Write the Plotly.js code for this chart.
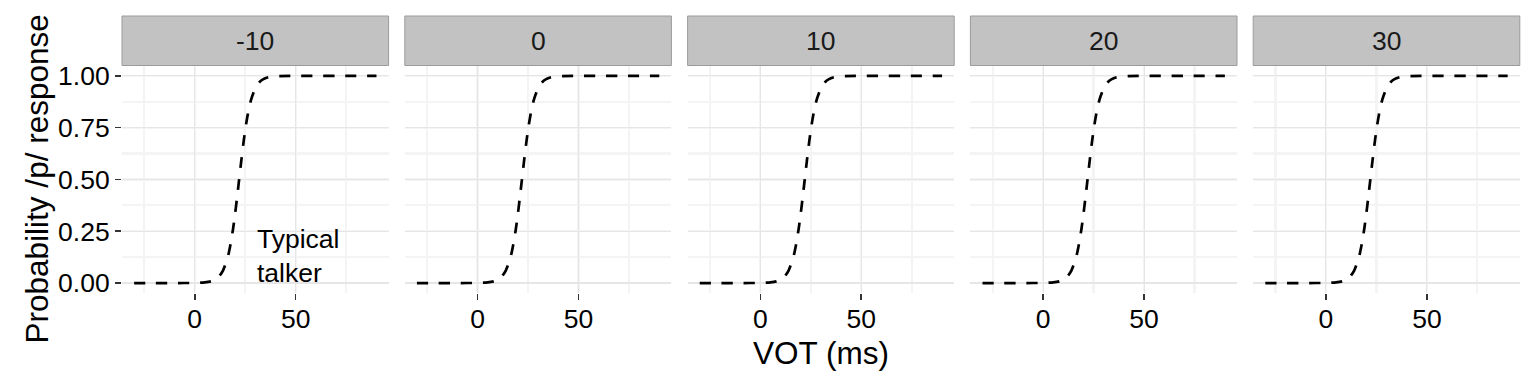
<!DOCTYPE html>
<html>
<head>
<meta charset="utf-8">
<script src="https://cdn.plot.ly/plotly-3.0.1.min.js"></script>
<style>
  html, body { margin: 0; padding: 0; background: #ffffff; }
  #chart { width: 1536px; height: 384px; }
</style>
</head>
<body>
<div id="chart"></div>
<script>
// ---- data ----
const facetLabels = ["-10", "0", "10", "20", "30"];
const vot = [-30, -20, -10, 0, 5, 8, 10, 12, 14, 16, 17, 18, 19, 20, 21, 22, 23, 24, 25, 26, 27, 28, 30, 32, 34, 36, 40, 50, 60, 70, 80, 90];
const probP = [0, 0, 0, 0.0005, 0.003, 0.008, 0.016, 0.031, 0.060, 0.112, 0.151, 0.201, 0.262, 0.334, 0.415, 0.5, 0.585, 0.666, 0.738, 0.799, 0.849, 0.888, 0.940, 0.969, 0.984, 0.992, 0.998, 1, 1, 1, 1, 1];
const annotationLabel = "Typical<br>talker";
const annotationX = 30;
const annotationY = 0.13;
const yTickVals = [0, 0.25, 0.5, 0.75, 1];
const xTickVals = [0, 50];

// ---- layout helpers ----
const W = 1536, H = 384;
const FONT = "Liberation Sans, Arial, Helvetica, sans-serif";
const TXT = 26.5;
const panelLeft = 122, panelW = 266.6, panelGap = 16.2;
const panelTopPx = 65.5, panelBotPx = 293.4;
const stripTopPx = 16;
const yDom = [1 - panelBotPx / H, 1 - panelTopPx / H];

const traces = [];
const layout = {
  width: W, height: H,
  margin: {l: 0, r: 0, t: 0, b: 0},
  paper_bgcolor: "#ffffff",
  plot_bgcolor: "#ffffff",
  showlegend: false,
  font: {family: FONT, color: "#000000", size: TXT},
  shapes: [],
  annotations: []
};

facetLabels.forEach((lab, i) => {
  const n = i === 0 ? "" : String(i + 1);
  const x0 = panelLeft + i * (panelW + panelGap);
  const x1 = x0 + panelW;
  traces.push({
    type: "scatter", mode: "lines",
    x: vot, y: probP,
    xaxis: "x" + n, yaxis: "y" + n,
    line: {color: "#000000", width: 2.7, dash: "11px,11px", shape: "spline", smoothing: 0.6},
    hoverinfo: "skip"
  });
  layout["xaxis" + n] = {
    domain: [x0 / W, x1 / W],
    anchor: "y" + n,
    range: [-36, 96],
    tickmode: "array", tickvals: xTickVals,
    ticks: "outside", ticklen: 6, tickwidth: 1.6, tickcolor: "#333333",
    ticklabelstandoff: -4,
    tickfont: {size: TXT, color: "#000000", family: FONT},
    showgrid: true, gridcolor: "#e6e6e6", gridwidth: 1.1,
    minor: {dtick: 25, tick0: 0, showgrid: true, gridcolor: "#f4f4f4", gridwidth: 2.2, ticks: ""},
    zeroline: false, showline: false,
    fixedrange: true
  };
  layout["yaxis" + n] = {
    domain: yDom,
    anchor: "x" + n,
    range: [-0.05, 1.05],
    tickmode: "array", tickvals: yTickVals,
    tickformat: ".2f",
    ticks: i === 0 ? "outside" : "",
    ticklen: 6, tickwidth: 1.6, tickcolor: "#333333",
    showticklabels: i === 0,
    tickfont: {size: TXT, color: "#000000", family: FONT},
    showgrid: true, gridcolor: "#e6e6e6", gridwidth: 1.1,
    minor: {dtick: 0.125, tick0: 0, showgrid: true, gridcolor: "#f4f4f4", gridwidth: 2.2, ticks: ""},
    zeroline: false, showline: false,
    fixedrange: true
  };
  // strip
  layout.shapes.push({
    type: "rect", xref: "paper", yref: "paper",
    x0: x0 / W, x1: x1 / W,
    y0: 1 - panelTopPx / H, y1: 1 - stripTopPx / H,
    fillcolor: "#c2c2c2", line: {color: "#9b9b9b", width: 1}, layer: "above"
  });
  layout.annotations.push({
    xref: "paper", yref: "paper",
    x: (x0 + x1) / 2 / W, y: 1 - ((stripTopPx + panelTopPx) / 2) / H,
    xanchor: "center", yanchor: "middle",
    text: lab, showarrow: false,
    font: {size: TXT, color: "#1a1a1a", family: FONT}
  });
});

// in-panel annotation (first panel)
layout.annotations.push({
  xref: "x", yref: "y",
  x: annotationX, y: annotationY,
  xanchor: "left", yanchor: "middle", align: "left",
  text: annotationLabel, showarrow: false,
  font: {size: TXT, color: "#000000", family: FONT}
});

// global axis titles
layout.annotations.push({
  xref: "paper", yref: "paper",
  x: (panelLeft + (panelLeft + 5 * panelW + 4 * panelGap)) / 2 / W,
  y: 1 - 353 / H,
  xanchor: "center", yanchor: "middle",
  text: "VOT (ms)", showarrow: false,
  font: {size: 31.5, color: "#000000", family: FONT}
});
layout.annotations.push({
  xref: "paper", yref: "paper",
  x: 37 / W, y: 1 - ((panelTopPx + panelBotPx) / 2) / H,
  xanchor: "center", yanchor: "middle",
  textangle: -90,
  text: "Probability /p/ response", showarrow: false,
  font: {size: 31.5, color: "#000000", family: FONT}
});

Plotly.newPlot("chart", traces, layout, {displayModeBar: false, staticPlot: true});
</script>
</body>
</html>
